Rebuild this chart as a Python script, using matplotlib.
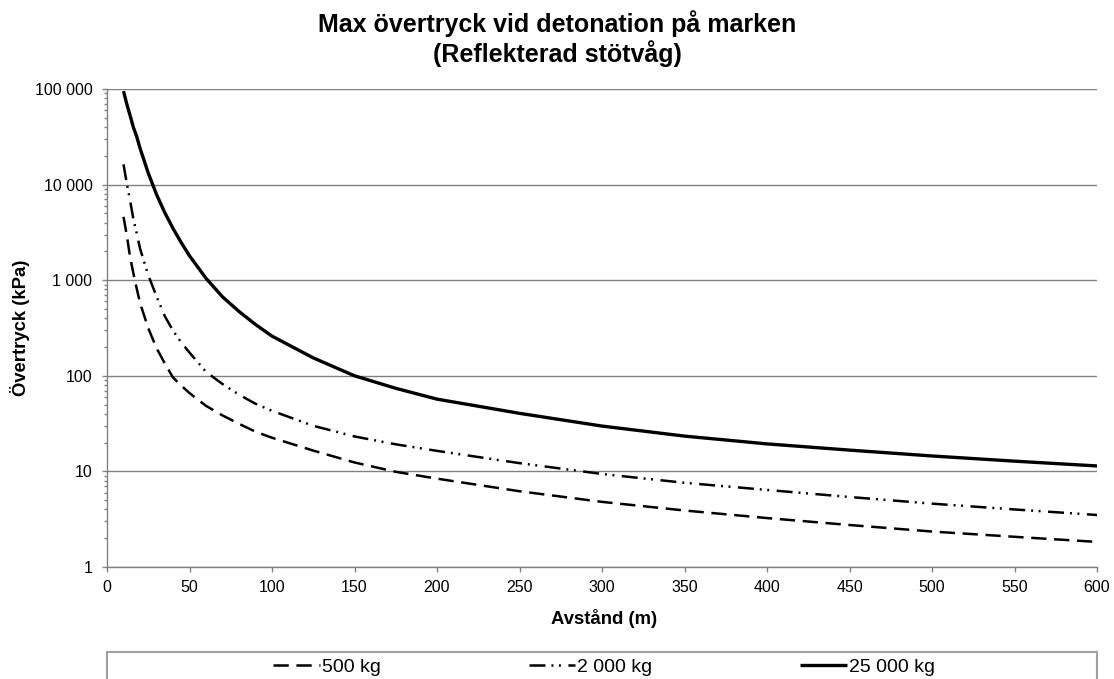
import matplotlib
matplotlib.use("Agg")
import matplotlib.pyplot as plt
from matplotlib.ticker import FuncFormatter, LogLocator, NullFormatter
from matplotlib.patches import Rectangle

plt.rcParams['font.family'] = ['Liberation Sans', 'DejaVu Sans']
plt.rcParams['lines.scale_dashes'] = False

# Data (distance in m, overpressure in kPa)
dist = [10, 12, 14, 16, 18, 20, 25, 30, 35, 40, 45, 50, 60, 70, 80, 90, 100,
        125, 150, 175, 200, 250, 300, 350, 400, 450, 500, 550, 600]
p_500 = [4600, 2950, 1740, 1180, 820, 580, 315, 195, 135, 96, 79, 66, 48.5, 38.5, 31.5, 26, 22.5,
         16.5, 12.4, 9.9, 8.4, 6.2, 4.8, 3.9, 3.25, 2.75, 2.35, 2.07, 1.83]
p_2000 = [16300, 10300, 6800, 4350, 3100, 2150, 1130, 678, 422, 297, 223, 175, 110, 82, 63.5, 51, 43,
          30, 23.2, 19.2, 16.4, 12.2, 9.4, 7.6, 6.4, 5.4, 4.6, 4.0, 3.5]
p_25000 = [95000, 69500, 52800, 39700, 31800, 24100, 13200, 7900, 5100, 3480, 2470, 1800, 1046, 670, 471, 344, 260,
           154, 100, 74, 57, 40.5, 29.8, 23.4, 19.4, 16.7, 14.5, 12.8, 11.4]
labels = ["500 kg", "2 000 kg", "25 000 kg"]
title = "Max övertryck vid detonation på marken\n(Reflekterad stötvåg)"
xlabel = "Avstånd (m)"
ylabel = "Övertryck (kPa)"
xticks = list(range(0, 601, 50))
yticks = [1, 10, 100, 1000, 10000, 100000]

W, H = 1114, 679
fig = plt.figure(figsize=(W / 100, H / 100), dpi=100)
ax = fig.add_axes([107 / W, 1 - 567 / H, (1097 - 107) / W, (567 - 89) / H])

l1, = ax.plot(dist, p_500, color='black', lw=1.8, linestyle=(0, (11, 5.5)))
l2, = ax.plot(dist, p_2000, color='black', lw=1.8,
              linestyle=(0, (11.5, 4.3, 1.4, 4.0, 1.4, 5.4)))
l3, = ax.plot(dist, p_25000, color='black', lw=2.4, solid_capstyle='butt')

ax.set_yscale('log')
ax.set_xlim(0, 600)
ax.set_ylim(1, 100000)
ax.set_xticks(xticks)
ax.set_yticks(yticks)
ax.yaxis.set_major_formatter(FuncFormatter(lambda v, p: f"{int(round(v)):,}".replace(",", " ")))
ax.yaxis.set_minor_locator(LogLocator(base=10, subs=range(2, 10)))
ax.yaxis.set_minor_formatter(NullFormatter())

ax.grid(True, axis='y', which='major', color='#808080', lw=1.0)
ax.set_axisbelow(True)
for s in ['top', 'right']:
    ax.spines[s].set_visible(False)
for s in ['left', 'bottom']:
    ax.spines[s].set_color('#808080')
    ax.spines[s].set_linewidth(1.0)

ax.tick_params(axis='y', which='major', direction='out', length=3.5, width=1,
               color='#808080', labelsize=11.5, labelcolor='black', pad=7)
ax.tick_params(axis='x', which='major', direction='out', length=3.5, width=1,
               color='#808080', labelsize=11.5, labelcolor='black', pad=6)
ax.tick_params(axis='y', which='minor', direction='out', length=2.5, width=1, color='#808080')

fig.text(557 / W, 1 - 39 / H, title, ha='center', va='center', fontsize=18,
         fontweight='bold', linespacing=1.15)
fig.text(604 / W, 1 - 618 / H, xlabel, ha='center', va='center', fontsize=13.3, fontweight='bold')
fig.text(20 / W, 1 - 328 / H, ylabel, ha='center', va='center', fontsize=13.3,
         fontweight='bold', rotation=90)

# legend frame
fig.add_artist(Rectangle((107 / W, -0.05), (1097 - 107) / W, 0.05 + 1 - 652 / H,
                         transform=fig.transFigure, fill=False, edgecolor='#a0a0a0', lw=1.5))
fig.legend([l1, l2, l3], labels, ncol=3, loc='center', bbox_to_anchor=(604 / W, 1 - 667 / H),
           frameon=False, fontsize=14, handlelength=2.4, handletextpad=0.1,
           columnspacing=7.6, borderpad=0)

fig.savefig("out.png", dpi=100)
